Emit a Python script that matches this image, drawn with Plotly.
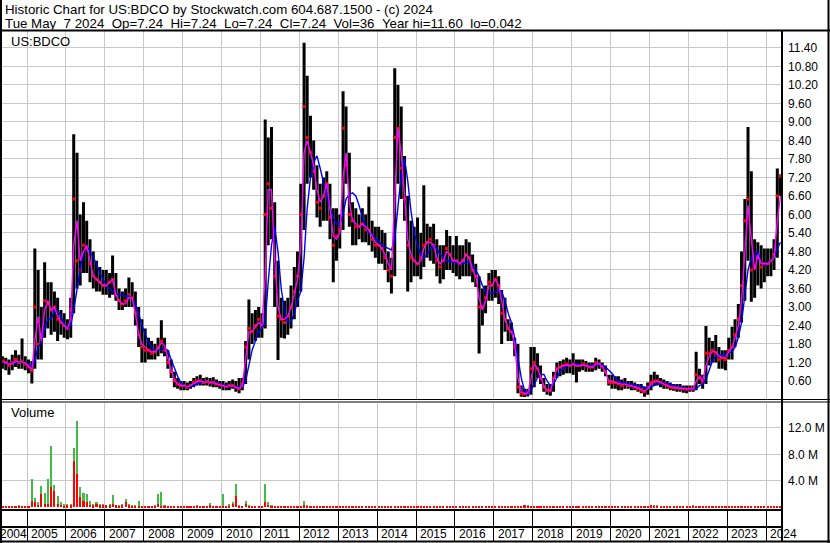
import plotly.graph_objects as go

# ---------------- data (monthly, May 2004 .. May 2024) ----------------
start_year, start_month = 2004, 5

high = [
    1.40, 1.35, 1.30, 1.45, 1.60, 1.45, 1.98, 1.40,                            # 2004 May-Dec
    1.30, 1.25, 4.90, 4.20, 3.00, 4.45, 3.80, 3.80, 3.50, 3.30, 2.90, 2.80,    # 2005
    2.60, 3.30, 8.60, 8.00, 6.00, 6.40, 5.80, 5.20, 4.80, 4.50, 4.30, 4.20,    # 2006
    4.20, 4.10, 4.67, 4.10, 3.60, 3.50, 3.60, 3.96, 3.80, 3.50, 3.00, 2.60,    # 2007
    2.30, 2.00, 1.90, 1.80, 2.00, 2.57, 2.00, 1.60, 1.30, 0.90, 0.70, 0.60,    # 2008
    0.60, 0.55, 0.60, 0.70, 0.75, 0.80, 0.70, 0.72, 0.70, 0.72, 0.65, 0.60,    # 2009
    0.60, 0.55, 0.60, 0.65, 0.60, 0.70, 0.70, 1.90, 3.24, 2.80, 2.90, 3.00,    # 2010
    2.80, 9.08, 8.50, 8.84, 6.40, 4.50, 3.30, 3.20, 3.30, 3.70, 4.30, 4.80,    # 2011
    7.00, 11.57, 10.50, 9.20, 8.40, 7.60, 7.00, 7.20, 7.40, 7.00, 6.20, 6.20,  # 2012
    6.00, 10.00, 9.50, 8.00, 6.40, 6.20, 6.00, 6.20, 6.00, 6.90, 5.80, 5.60,   # 2013
    5.60, 5.50, 5.40, 4.80, 4.60, 10.74, 10.20, 9.50, 7.90, 6.60, 5.80, 5.60,  # 2014
    5.90, 5.40, 6.95, 5.70, 5.60, 5.70, 5.20, 5.00, 5.00, 5.50, 5.30, 5.00,    # 2015
    5.30, 5.00, 5.00, 5.20, 5.10, 4.70, 4.40, 4.00, 3.60, 3.70, 4.10, 4.20,    # 2016
    4.20, 4.00, 3.55, 3.30, 2.60, 2.50, 2.00, 1.80, 0.45, 0.35, 0.35, 1.70,    # 2017
    1.70, 1.50, 1.10, 0.70, 0.50, 0.50, 0.90, 1.20, 1.25, 1.30, 1.35, 1.30,    # 2018
    1.50, 1.30, 1.30, 1.30, 1.25, 1.20, 1.20, 1.35, 1.30, 1.20, 1.10, 0.80,    # 2019
    0.80, 0.75, 0.75, 0.65, 0.70, 0.60, 0.60, 0.55, 0.50, 0.50, 0.40, 0.55,    # 2020
    0.80, 0.90, 0.80, 0.70, 0.65, 0.60, 0.55, 0.50, 0.50, 0.50, 0.45, 0.45,    # 2021
    0.45, 0.45, 1.55, 1.00, 0.80, 2.38, 2.00, 1.90, 2.09, 1.70, 1.60, 1.60,    # 2022
    2.00, 2.36, 2.60, 3.10, 4.80, 6.50, 8.84, 7.40, 5.20, 5.10, 5.00, 4.90,    # 2023
    4.90, 4.90, 5.20, 7.49, 7.30,                                              # 2024 Jan-May
]

low = [
    1.00, 0.95, 0.80, 0.95, 1.05, 1.00, 1.00, 0.95,
    0.85, 0.52, 1.00, 1.30, 1.30, 2.00, 2.30, 2.10, 2.20, 1.90, 2.10, 2.00,
    1.95, 2.00, 2.80, 3.60, 3.70, 4.10, 4.10, 3.80, 3.60, 3.50, 3.50, 3.40,
    3.40, 3.30, 3.40, 3.20, 2.90, 2.90, 3.00, 3.00, 3.00, 2.40, 1.70, 1.20,
    1.20, 1.30, 1.30, 1.30, 1.40, 1.50, 1.40, 1.00, 0.70, 0.40, 0.35, 0.30,
    0.30, 0.30, 0.35, 0.40, 0.45, 0.45, 0.45, 0.45, 0.42, 0.40, 0.40, 0.35,
    0.30, 0.30, 0.30, 0.35, 0.25, 0.20, 0.30, 0.50, 1.30, 1.80, 1.90, 2.00,
    2.00, 2.30, 5.00, 5.20, 3.00, 1.28, 2.00, 1.98, 2.10, 2.30, 2.60, 3.00,
    3.50, 5.50, 7.00, 7.20, 6.80, 5.90, 5.60, 5.80, 5.80, 5.20, 3.80, 4.50,
    4.90, 5.50, 7.00, 5.60, 5.00, 5.00, 5.20, 5.10, 5.10, 5.00, 4.80, 4.60,
    4.40, 4.40, 4.20, 3.80, 3.44, 4.00, 7.00, 6.50, 5.80, 3.50, 3.80, 4.00,
    4.00, 3.90, 4.30, 4.60, 4.50, 4.40, 4.00, 3.76, 3.90, 4.20, 4.20, 4.10,
    4.00, 3.90, 4.00, 4.00, 4.00, 3.80, 3.65, 1.49, 2.40, 2.80, 3.20, 3.20,
    3.30, 3.10, 1.80, 2.20, 1.90, 1.90, 1.40, 0.20, 0.09, 0.08, 0.10, 0.15,
    0.40, 0.70, 0.50, 0.25, 0.15, 0.12, 0.25, 0.70, 0.75, 0.80, 0.85, 0.85,
    0.80, 0.55, 0.90, 0.95, 0.90, 0.90, 0.90, 0.95, 1.00, 0.90, 0.75, 0.45,
    0.35, 0.35, 0.30, 0.30, 0.35, 0.35, 0.30, 0.30, 0.25, 0.20, 0.09, 0.15,
    0.30, 0.45, 0.45, 0.40, 0.35, 0.35, 0.30, 0.28, 0.25, 0.25, 0.22, 0.20,
    0.25, 0.25, 0.30, 0.50, 0.35, 0.50, 1.10, 1.20, 1.20, 1.00, 1.00, 0.95,
    1.30, 1.30, 1.70, 2.00, 2.50, 3.20, 4.50, 3.17, 3.30, 3.70, 3.60, 3.80,
    4.00, 4.00, 4.20, 4.60, 6.60,
]

close = [
    1.25, 1.20, 1.10, 1.20, 1.30, 1.20, 1.25, 1.15,
    1.05, 0.95, 3.00, 1.80, 2.00, 3.20, 3.10, 2.90, 3.00, 2.60, 2.50, 2.40,
    2.30, 2.90, 6.50, 4.50, 4.20, 5.00, 4.90, 4.40, 4.00, 3.90, 3.80, 3.70,
    3.70, 3.80, 3.90, 3.40, 3.20, 3.10, 3.20, 3.40, 3.30, 2.80, 2.10, 1.70,
    1.60, 1.60, 1.50, 1.55, 1.70, 1.90, 1.60, 1.20, 0.90, 0.60, 0.50, 0.45,
    0.45, 0.40, 0.45, 0.55, 0.60, 0.60, 0.55, 0.58, 0.55, 0.55, 0.50, 0.48,
    0.45, 0.42, 0.45, 0.45, 0.40, 0.35, 0.50, 1.70, 2.30, 2.20, 2.40, 2.60,
    2.40, 6.00, 7.00, 6.20, 4.00, 2.70, 2.60, 2.50, 2.70, 3.00, 3.50, 4.00,
    6.00, 9.50, 8.50, 8.00, 7.40, 6.40, 6.20, 6.60, 7.00, 5.90, 5.00, 5.30,
    5.50, 8.80, 7.60, 6.00, 5.80, 5.60, 5.60, 5.70, 5.50, 5.50, 5.20, 5.00,
    5.00, 4.90, 4.60, 4.20, 4.00, 8.50, 8.80, 7.50, 6.50, 5.00, 4.60, 4.50,
    4.40, 4.60, 5.00, 5.10, 5.20, 5.00, 4.50, 4.30, 4.50, 4.90, 4.70, 4.50,
    4.50, 4.40, 4.50, 4.70, 4.60, 4.20, 4.00, 3.00, 3.00, 3.30, 3.80, 3.70,
    3.90, 3.70, 2.80, 2.60, 2.30, 2.20, 1.70, 0.40, 0.20, 0.18, 0.20, 1.00,
    1.20, 1.00, 0.70, 0.40, 0.30, 0.30, 0.70, 1.00, 1.05, 1.10, 1.15, 1.10,
    1.15, 1.10, 1.10, 1.15, 1.10, 1.05, 1.05, 1.20, 1.15, 1.05, 0.90, 0.55,
    0.55, 0.55, 0.50, 0.45, 0.50, 0.45, 0.45, 0.40, 0.35, 0.30, 0.25, 0.40,
    0.55, 0.60, 0.60, 0.55, 0.50, 0.45, 0.40, 0.38, 0.38, 0.36, 0.35, 0.33,
    0.35, 0.35, 0.80, 0.70, 0.55, 1.50, 1.50, 1.60, 1.50, 1.30, 1.35, 1.30,
    1.60, 1.70, 2.10, 2.60, 3.70, 5.80, 6.50, 4.20, 4.30, 4.60, 4.30, 4.40,
    4.40, 4.50, 4.70, 6.60, 7.24,
]

ma_fast = [
    1.22, 1.20, 1.15, 1.15, 1.25, 1.22, 1.22, 1.18,
    1.10, 0.95, 1.90, 2.70, 1.90, 2.90, 3.20, 2.90, 3.00, 2.70, 2.50, 2.40,
    2.30, 2.60, 5.00, 5.80, 4.50, 4.80, 5.00, 4.50, 4.00, 3.90, 3.80, 3.70,
    3.70, 3.80, 3.90, 3.40, 3.20, 3.10, 3.10, 3.30, 3.30, 2.80, 2.10, 1.80,
    1.70, 1.60, 1.55, 1.55, 1.65, 1.85, 1.75, 1.30, 0.95, 0.65, 0.50, 0.45,
    0.45, 0.42, 0.45, 0.52, 0.58, 0.60, 0.56, 0.57, 0.56, 0.55, 0.51, 0.48,
    0.45, 0.42, 0.44, 0.45, 0.40, 0.35, 0.45, 1.30, 2.20, 2.20, 2.35, 2.50,
    2.40, 4.00, 6.80, 6.80, 4.50, 3.00, 2.60, 2.60, 2.70, 3.00, 3.40, 3.90,
    5.00, 8.00, 8.40, 8.00, 7.60, 6.80, 6.40, 6.60, 7.00, 6.20, 5.30, 5.20,
    5.40, 7.20, 8.00, 6.40, 5.80, 5.70, 5.60, 5.70, 5.60, 5.50, 5.30, 5.10,
    5.00, 4.90, 4.70, 4.40, 4.20, 6.80, 8.80, 8.00, 6.60, 5.20, 4.70, 4.50,
    4.40, 4.50, 4.90, 5.10, 5.10, 5.00, 4.60, 4.40, 4.50, 4.80, 4.70, 4.50,
    4.50, 4.40, 4.50, 4.70, 4.60, 4.20, 4.00, 3.30, 2.90, 3.20, 3.70, 3.70,
    3.90, 3.70, 3.20, 2.60, 2.30, 2.20, 1.80, 0.70, 0.25, 0.20, 0.20, 0.70,
    1.15, 1.00, 0.75, 0.45, 0.30, 0.28, 0.65, 1.00, 1.05, 1.10, 1.12, 1.10,
    1.15, 1.10, 1.10, 1.12, 1.10, 1.07, 1.05, 1.15, 1.17, 1.08, 0.90, 0.60,
    0.60, 0.55, 0.52, 0.50, 0.50, 0.47, 0.45, 0.42, 0.38, 0.33, 0.27, 0.35,
    0.50, 0.57, 0.60, 0.55, 0.50, 0.47, 0.42, 0.39, 0.38, 0.37, 0.35, 0.34,
    0.33, 0.33, 0.60, 0.75, 0.60, 1.10, 1.40, 1.55, 1.55, 1.40, 1.35, 1.35,
    1.55, 1.70, 2.00, 2.40, 3.20, 4.80, 6.30, 5.20, 4.20, 4.70, 4.40, 4.40,
    4.40, 4.50, 4.60, 5.80, 6.60,
]

ma_slow = [
    1.20, 1.20, 1.18, 1.17, 1.20, 1.22, 1.22, 1.20,
    1.15, 1.05, 1.25, 1.70, 1.85, 2.30, 2.60, 2.60, 2.90, 2.90, 2.70, 2.45,
    2.30, 2.40, 2.90, 3.60, 4.20, 4.80, 5.00, 4.80, 4.60, 4.40, 4.10, 3.90,
    3.70, 3.60, 3.50, 3.45, 3.40, 3.40, 3.35, 3.35, 3.30, 3.10, 2.80, 2.40,
    2.10, 1.85, 1.70, 1.60, 1.60, 1.60, 1.65, 1.60, 1.30, 1.00, 0.75, 0.55,
    0.45, 0.42, 0.42, 0.45, 0.50, 0.55, 0.57, 0.57, 0.56, 0.55, 0.53, 0.50,
    0.48, 0.45, 0.44, 0.44, 0.42, 0.40, 0.40, 0.60, 1.10, 1.60, 1.90, 2.20,
    2.30, 2.50, 3.80, 5.00, 5.60, 4.80, 3.60, 2.90, 2.50, 2.50, 2.80, 3.20,
    3.50, 4.60, 6.20, 7.20, 7.70, 7.90, 7.50, 7.00, 6.60, 6.20, 5.90, 5.70,
    5.70, 6.00, 6.50, 6.65, 6.70, 6.60, 6.30, 5.90, 5.60, 5.40, 5.35, 5.20,
    5.15, 5.00, 4.95, 4.90, 4.85, 5.20, 6.30, 7.30, 7.80, 7.10, 6.10, 5.40,
    5.00, 4.70, 4.60, 4.70, 4.90, 5.00, 4.90, 4.70, 4.60, 4.50, 4.50, 4.45,
    4.45, 4.40, 4.40, 4.45, 4.45, 4.35, 4.20, 4.00, 3.70, 3.50, 3.45, 3.45,
    3.50, 3.55, 3.50, 3.20, 2.80, 2.50, 2.00, 1.30, 0.70, 0.30, 0.15, 0.30,
    0.50, 0.70, 0.80, 0.82, 0.60, 0.45, 0.50, 0.70, 0.90, 1.00, 1.08, 1.12,
    1.15, 1.15, 1.12, 1.10, 1.10, 1.10, 1.10, 1.10, 1.12, 1.12, 1.05, 0.95,
    0.85, 0.70, 0.60, 0.55, 0.52, 0.50, 0.48, 0.47, 0.45, 0.42, 0.40, 0.38,
    0.40, 0.45, 0.50, 0.52, 0.53, 0.52, 0.50, 0.46, 0.42, 0.40, 0.38, 0.36,
    0.33, 0.33, 0.35, 0.45, 0.50, 0.65, 0.95, 1.25, 1.40, 1.45, 1.45, 1.45,
    1.50, 1.55, 1.70, 2.00, 2.50, 3.30, 4.20, 4.60, 4.60, 4.80, 4.45, 4.35,
    4.45, 4.50, 4.60, 4.90, 5.10,
]

# volume in millions of shares (green = up days, red = down days)
vol_up = [
    0.20, 0.20, 0.25, 0.20, 0.22, 0.35, 0.22, 0.20,
    0.25, 4.30, 1.50, 0.80, 3.30, 2.20, 4.30, 9.30, 3.40, 1.80, 0.80, 0.50,
    0.60, 0.50, 9.00, 13.10, 3.10, 2.20, 2.00, 1.00, 0.60, 0.90, 0.50, 0.60,
    0.40, 0.50, 1.90, 0.40, 0.30, 0.50, 1.30, 0.50, 0.30, 0.40, 1.00, 0.25,
    0.25, 0.20, 0.20, 0.30, 2.00, 2.40, 0.30, 0.25, 0.20, 0.20, 0.20, 0.20,
    0.20, 0.20, 0.20, 0.25, 0.40, 0.20, 0.20, 0.25, 0.70, 0.25, 0.20, 0.20,
    2.10, 0.25, 0.50, 0.80, 3.60, 0.30, 0.25, 1.00, 0.30, 0.25, 0.25, 0.25,
    0.25, 3.60, 0.80, 0.40, 0.25, 0.22, 0.22, 0.22, 0.22, 0.22, 0.22, 0.25,
    0.25, 1.00, 0.30, 0.22, 0.20, 0.20, 0.20, 0.20, 0.20, 0.20, 0.20, 0.20,
    0.20, 0.22, 0.20, 0.20, 0.20, 0.20, 0.20, 0.20, 0.20, 0.20, 0.20, 0.20,
    0.20, 0.20, 0.20, 0.20, 0.20, 0.22, 0.20, 0.20, 0.20, 0.20, 0.20, 0.20,
    0.20, 0.20, 0.20, 0.20, 0.20, 0.20, 0.20, 0.20, 0.20, 0.20, 0.20, 0.20,
    0.20, 0.20, 0.20, 0.20, 0.20, 0.20, 0.20, 0.20, 0.20, 0.20, 0.20, 0.20,
    0.20, 0.20, 0.20, 0.20, 0.20, 0.20, 0.20, 0.20, 0.20, 0.20, 0.45, 0.20,
    0.20, 0.20, 0.20, 0.20, 0.20, 0.20, 0.20, 0.20, 0.20, 0.20, 0.20, 0.20,
    0.20, 0.20, 0.20, 0.20, 0.20, 0.20, 0.20, 0.20, 0.20, 0.20, 0.20, 0.20,
    0.20, 0.20, 0.20, 0.20, 0.20, 0.20, 0.20, 0.20, 0.20, 0.20, 0.20, 0.20,
    0.25, 0.45, 0.35, 0.20, 0.20, 0.20, 0.20, 0.20, 0.20, 0.20, 0.20, 0.20,
    0.20, 0.35, 0.20, 0.20, 0.20, 0.25, 0.20, 0.20, 0.20, 0.20, 0.20, 0.20,
    0.20, 0.20, 0.20, 0.20, 0.20, 0.20, 0.20, 0.20, 0.20, 0.20, 0.20, 0.20,
    0.20, 0.20, 0.20, 0.20, 0.20,
]

vol_down = [
    0.12, 0.15, 0.12, 0.15, 0.12, 0.15, 0.12, 0.15,
    0.15, 1.00, 0.80, 0.40, 2.00, 0.60, 0.50, 3.10, 2.50, 0.60, 0.40, 0.25,
    0.30, 0.30, 7.00, 5.00, 1.60, 1.00, 0.90, 0.40, 0.30, 0.50, 0.30, 0.30,
    0.30, 0.30, 0.50, 0.30, 0.20, 0.30, 0.80, 0.30, 0.20, 0.20, 0.20, 0.15,
    0.15, 0.12, 0.12, 0.20, 0.60, 0.20, 0.20, 0.15, 0.12, 0.15, 0.12, 0.15,
    0.12, 0.15, 0.12, 0.15, 0.15, 0.12, 0.15, 0.15, 0.30, 0.15, 0.12, 0.15,
    0.20, 0.15, 0.20, 0.60, 1.80, 0.20, 0.15, 0.50, 0.20, 0.15, 0.15, 0.15,
    0.15, 0.80, 0.40, 0.20, 0.15, 0.15, 0.12, 0.15, 0.12, 0.15, 0.12, 0.15,
    0.15, 0.30, 0.20, 0.15, 0.12, 0.15, 0.12, 0.15, 0.12, 0.15, 0.12, 0.15,
    0.15, 0.15, 0.15, 0.15, 0.15, 0.15, 0.15, 0.15, 0.15, 0.15, 0.15, 0.15,
    0.15, 0.15, 0.15, 0.15, 0.15, 0.15, 0.15, 0.15, 0.15, 0.15, 0.15, 0.15,
    0.15, 0.15, 0.15, 0.15, 0.15, 0.15, 0.15, 0.15, 0.15, 0.15, 0.15, 0.15,
    0.15, 0.15, 0.15, 0.15, 0.15, 0.15, 0.15, 0.15, 0.15, 0.15, 0.15, 0.15,
    0.15, 0.15, 0.15, 0.15, 0.15, 0.15, 0.15, 0.15, 0.15, 0.30, 0.15, 0.15,
    0.15, 0.12, 0.15, 0.12, 0.15, 0.12, 0.15, 0.12, 0.15, 0.12, 0.15, 0.12,
    0.15, 0.12, 0.15, 0.12, 0.15, 0.12, 0.15, 0.12, 0.15, 0.12, 0.15, 0.12,
    0.15, 0.12, 0.15, 0.12, 0.15, 0.12, 0.15, 0.12, 0.15, 0.12, 0.15, 0.12,
    0.30, 0.15, 0.15, 0.12, 0.15, 0.12, 0.15, 0.12, 0.15, 0.12, 0.15, 0.12,
    0.15, 0.20, 0.15, 0.12, 0.15, 0.15, 0.12, 0.15, 0.12, 0.15, 0.12, 0.15,
    0.15, 0.12, 0.15, 0.12, 0.15, 0.12, 0.15, 0.12, 0.15, 0.12, 0.15, 0.12,
    0.15, 0.12, 0.15, 0.12, 0.15,
]

price_ticks = [0.6, 1.2, 1.8, 2.4, 3.0, 3.6, 4.2, 4.8, 5.4, 6.0, 6.6, 7.2, 7.8,
               8.4, 9.0, 9.6, 10.2, 10.8, 11.4]
price_tick_labels = ["0.60", "1.20", "1.80", "2.40", "3.00", "3.60", "4.20", "4.80",
                     "5.40", "6.00", "6.60", "7.20", "7.80", "8.40", "9.00", "9.60",
                     "10.20", "10.80", "11.40"]
vol_ticks = [4.0, 8.0, 12.0]
vol_tick_labels = ["4.0 M", "8.0 M", "12.0 M"]
year_labels = [str(y) for y in range(2004, 2025)]

header_line1 = "Historic Chart for US:BDCO by Stockwatch.com 604.687.1500 - (c) 2024"
header_line2 = ("Tue May  7 2024  Op=7.24  Hi=7.24  Lo=7.24  Cl=7.24  Vol=36  "
                "Year hi=11.60  lo=0.042")
symbol_label = "US:BDCO"
volume_label = "Volume"

x_start, x_end = "2004-04-22", "2024-05-29"

n = len(high)
assert all(len(a) == n for a in (low, close, ma_fast, ma_slow, vol_up, vol_down))

# month dates (mid-month)
dates = []
yy, mm = start_year, start_month
for _ in range(n):
    dates.append(f"{yy}-{mm:02d}-15")
    mm += 1
    if mm > 12:
        mm, yy = 1, yy + 1

# ---------------- figure ----------------
W, H = 830, 543
FONT = "Liberation Sans, Arial, sans-serif"
GRID = "#c8c8c8"


def px_x(p):
    return p / W


def px_y(p):
    return 1 - p / H


fig = go.Figure()

# high-low bars
bx, by = [], []
for d, h, l in zip(dates, high, low):
    bx += [d, d, None]
    by += [l, h, None]
fig.add_trace(go.Scatter(x=bx, y=by, mode="lines", line=dict(color="black", width=3),
                         xaxis="x", yaxis="y", hoverinfo="skip"))
# closes (red ticks)
fig.add_trace(go.Scatter(x=dates, y=close, mode="markers",
                         marker=dict(symbol="square", size=3, color="#ff0000", line=dict(width=0)),
                         xaxis="x", yaxis="y"))
# moving averages
fig.add_trace(go.Scatter(x=dates, y=ma_slow, mode="lines", line=dict(color="#0000ff", width=1.4),
                         xaxis="x", yaxis="y"))
fig.add_trace(go.Scatter(x=dates, y=ma_fast, mode="lines", line=dict(color="#ff00ff", width=1.4),
                         xaxis="x", yaxis="y"))

# volume
bar_w = 20 * 24 * 3600 * 1000
fig.add_trace(go.Bar(x=dates, y=vol_up, width=bar_w, marker=dict(color="#44bb44", line=dict(width=0)),
                     xaxis="x2", yaxis="y2"))
fig.add_trace(go.Bar(x=dates, y=vol_down, width=bar_w, marker=dict(color="#ff0000", line=dict(width=0)),
                     xaxis="x2", yaxis="y2"))

x_dom = [0, px_x(782)]
common_x = dict(type="date", range=[x_start, x_end], domain=x_dom, tick0="2005-01-01",
                dtick="M12", showgrid=True, gridcolor=GRID, gridwidth=1, zeroline=False)

fig.update_layout(
    width=W, height=H, margin=dict(l=0, r=0, t=0, b=0),
    paper_bgcolor="white", plot_bgcolor="white", showlegend=False,
    barmode="overlay", bargap=0,
    font=dict(family=FONT, color="black", size=12),
    xaxis=dict(**common_x, anchor="y", showticklabels=False, ticks="", showline=False),
    yaxis=dict(domain=[px_y(399.5), px_y(31)], range=[0, 11.95], side="right", anchor="x",
               tickvals=price_ticks, ticktext=price_tick_labels, ticks="", showgrid=True,
               gridcolor=GRID, gridwidth=1, zeroline=False, showline=False,
               ticklabelstandoff=5, tickfont=dict(size=12, family=FONT, color="black")),
    xaxis2=dict(**common_x, anchor="y2", matches="x", showticklabels=False, ticks="outside",
                ticklen=31, tickcolor="black", tickwidth=1, showline=True, linecolor="black",
                linewidth=2),
    yaxis2=dict(domain=[px_y(509), px_y(403)], range=[-0.23, 15.77], side="right", anchor="x2",
                tickvals=vol_ticks, ticktext=vol_tick_labels, ticks="", showgrid=True,
                gridcolor=GRID, gridwidth=1, zeroline=False, showline=False,
                ticklabelstandoff=5, tickfont=dict(size=12, family=FONT, color="black")),
)

# frame lines
shapes = []


def hline(ypx, x0px, x1px, w):
    shapes.append(dict(type="line", xref="paper", yref="paper", x0=px_x(x0px), x1=px_x(x1px),
                       y0=px_y(ypx), y1=px_y(ypx), line=dict(color="black", width=w)))


def vline(xpx, y0px, y1px, w):
    shapes.append(dict(type="line", xref="paper", yref="paper", x0=px_x(xpx), x1=px_x(xpx),
                       y0=px_y(y0px), y1=px_y(y1px), line=dict(color="black", width=w)))


hline(30.5, 0, 830, 2)       # under header
hline(399.5, 0, 830, 1)      # double line between panels
hline(402, 0, 830, 1)
hline(527, 0, 782, 2)        # between tick band and label band
hline(541.5, 0, 830, 2)      # bottom
vline(1, 0, 543, 2)          # left border
vline(828.5, 0, 543, 2)      # right border
vline(782, 30, 542, 2)       # right axis line
fig.update_layout(shapes=shapes)

# texts
ann = []
ann.append(dict(text=header_line1.replace(" ", "\u00a0"), x=px_x(3), y=px_y(10), xref="paper",
                yref="paper", xanchor="left", yanchor="middle", showarrow=False,
                font=dict(size=13.3, family=FONT, color="black")))
ann.append(dict(text=header_line2.replace(" ", "\u00a0"), x=px_x(3), y=px_y(23.5), xref="paper",
                yref="paper", xanchor="left", yanchor="middle", showarrow=False,
                font=dict(size=13.3, family=FONT, color="black")))
ann.append(dict(text=symbol_label, x=px_x(9), y=px_y(41.5), xref="paper", yref="paper",
                xanchor="left", yanchor="middle", showarrow=False,
                font=dict(size=13, family=FONT, color="black")))
ann.append(dict(text=volume_label, x=px_x(9), y=px_y(412.5), xref="paper", yref="paper",
                xanchor="left", yanchor="middle", showarrow=False,
                font=dict(size=13, family=FONT, color="black")))
for lab in year_labels:
    xpos = f"{lab}-01-01" if lab != "2004" else x_start
    shift = 2 if lab != "2004" else -2
    ann.append(dict(text=lab, x=xpos, y=px_y(534), xref="x2", yref="paper", xanchor="left",
                    yanchor="middle", xshift=shift, showarrow=False,
                    font=dict(size=12, family=FONT, color="black")))
fig.update_layout(annotations=ann)

fig.write_html("out.html", config={"displayModeBar": False},
               post_script="document.body.style.margin='0px';document.body.style.overflow='hidden';")
